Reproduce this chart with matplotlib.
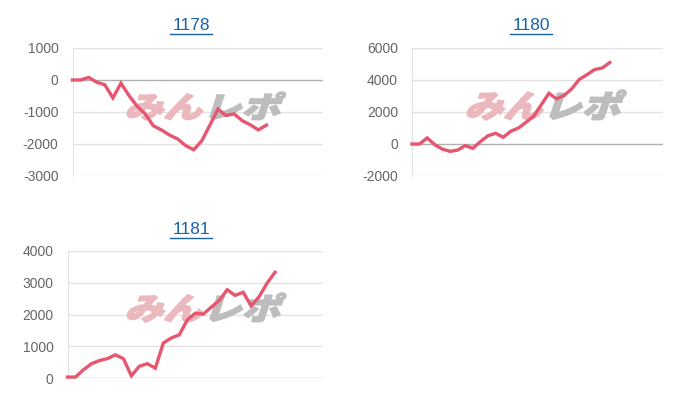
import numpy as np
import matplotlib
matplotlib.use("Agg")
import matplotlib.pyplot as plt
from matplotlib.lines import Line2D
from matplotlib.patches import PathPatch
from matplotlib.textpath import TextPath
from matplotlib.font_manager import FontProperties
from matplotlib.transforms import Affine2D

plt.rcParams["font.family"] = ["Liberation Sans", "DejaVu Sans"]
plt.rcParams["axes.unicode_minus"] = False

# data (差枚推移)
titles = ["1178", "1180", "1181"]
vals_1178 = [0, 0, 80, -70, -150, -560, -100, -490, -820, -1060, -1430, -1560, -1720,
             -1840, -2050, -2180, -1900, -1410, -910, -1110, -1060, -1270, -1400, -1560, -1410]
vals_1180 = [0, 0, 380, -50, -320, -460, -380, -100, -270, 150, 520, 670, 420, 800, 1000,
             1360, 1740, 2450, 3170, 2820, 3030, 3450, 4040, 4330, 4650, 4750, 5090]
vals_1181 = [30, 30, 260, 450, 550, 610, 730, 610, 70, 370, 450, 310, 1100, 1260, 1360,
             1830, 2040, 2010, 2230, 2440, 2780, 2600, 2700, 2270, 2560, 2990, 3330]
series = [vals_1178, vals_1180, vals_1181]
n_slots = [31, 33, 32]
yticks = [[1000, 0, -1000, -2000, -3000],
          [6000, 4000, 2000, 0, -2000],
          [4000, 3000, 2000, 1000, 0]]

W, H = 700, 400
LINE = "#e6566f"
# axes boxes in pixels: left, top, right, bottom
boxes = [(72.5, 48, 323, 176), (412, 48, 663, 176), (67.5, 251, 323, 378)]
title_pos = [(191, 25), (531, 25), (191, 229)]
mark_box = [(125, 92, 290, 120), (465, 90, 630, 120), (125, 293, 290, 322)]

fig = plt.figure(figsize=(W / 100, H / 100), dpi=100)
fp = FontProperties(family="Noto Sans CJK JP", weight="black")


def watermark(ax, box):
    x0, y0, x1, y1 = box
    full = TextPath((0, 0), "みんレポ", size=1, prop=fp)
    ext = full.get_extents()
    sx = (x1 - x0) / ext.width * 0.92
    sy = (y1 - y0) / ext.height
    p1 = TextPath((0, 0), "みん", size=1, prop=fp)
    w1 = p1.get_extents().x1 + 0.05
    p2 = TextPath((w1, 0), "レポ", size=1, prop=fp)
    tr = (Affine2D().translate(-ext.x0, -ext.y0).scale(sx, sy).skew_deg(18, 0)
          .translate(x0, H - y1))
    for p, c in ((p1, "#ebb9bd"), (p2, "#bdbdbd")):
        ax.add_artist(PathPatch(p, transform=tr, facecolor=c, edgecolor=c, lw=1.2,
                                zorder=1.5))


for vals, t, n, yt, (l, tp, r, b), (tx, ty), mb in zip(series, titles, n_slots, yticks,
                                                       boxes, title_pos, mark_box):
    ax = fig.add_axes([l / W, 1 - b / H, (r - l) / W, (b - tp) / H])
    ax.plot(np.arange(len(vals)), vals, color=LINE, lw=2.4, zorder=3,
            solid_joinstyle="miter", clip_on=False)
    ax.set_xlim(0, n)
    ax.set_ylim(yt[-1], yt[0])
    ax.set_yticks(yt)
    ax.set_yticklabels([str(v) for v in yt])
    ax.set_xticks([])
    ax.tick_params(axis="y", length=0, pad=10, labelsize=10, labelcolor="#666666")
    for v in yt:
        ax.axhline(v, color="#b0b0b0" if v == 0 else "#e3e3e3", lw=1, zorder=1)
    for s in ("top", "right", "bottom"):
        ax.spines[s].set_visible(False)
    ax.spines["left"].set_color("#e3e3e3")
    watermark(ax, mb)
    fig.text(tx / W, 1 - ty / H, t, ha="center", va="center", fontsize=12.5,
             color="#1a62a8")
    fig.add_artist(Line2D([(tx - 21) / W, (tx + 21) / W], [1 - (ty + 9) / H] * 2,
                          color="#1a62a8", lw=1))

fig.savefig("out.png", dpi=100, facecolor="white")
